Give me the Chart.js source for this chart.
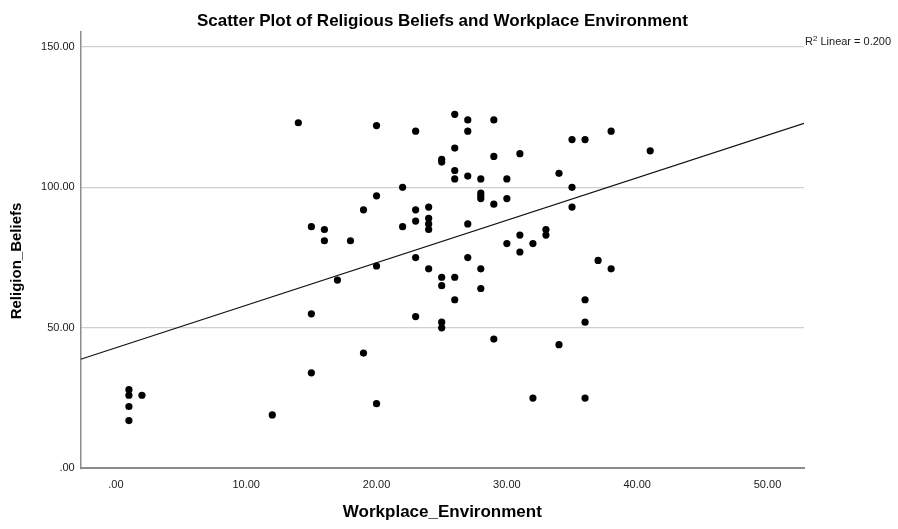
<!DOCTYPE html>
<html>
<head>
<meta charset="utf-8">
<script src="https://cdn.jsdelivr.net/npm/chart.js@4"></script>
<style>
  html, body { margin: 0; padding: 0; background: #fff; }
  #wrap { width: 898px; height: 529px; position: relative; }
</style>
</head>
<body>
<div id="wrap"><canvas id="c" width="898" height="529"></canvas></div>
<script>
// Workplace_Environment (x) values
const workplaceEnv = [
  1, 1, 2, 1, 1, 12, 15, 19, 20, 15,
  16, 16, 18, 19, 20, 20, 17, 15, 14, 20,
  23, 25, 25, 22, 26, 27, 27, 26, 26, 26,
  27, 28, 23, 24, 24, 24, 24, 23, 22, 27,
  29, 29, 31, 35, 36, 38, 41, 30, 34, 35,
  28, 28, 28, 29, 30, 35, 30, 31, 32, 33,
  33, 31, 27, 28, 28, 37, 38, 36, 36, 29,
  34, 32, 36, 23, 24, 25, 25, 26, 26, 23,
  25, 25
];
// Religion_Beliefs (y) values
const religionBeliefs = [
  28, 26, 26, 22, 17, 19, 34, 41, 23, 86,
  85, 81, 81, 92, 97, 72, 67, 55, 123, 122,
  120, 110, 109, 100, 126, 124, 120, 114, 106, 103,
  104, 103, 92, 93, 89, 87, 85, 88, 86, 87,
  124, 111, 112, 117, 117, 120, 113, 103, 105, 100,
  98, 97, 96, 94, 96, 93, 80, 83, 80, 85,
  83, 77, 75, 71, 64, 74, 71, 60, 52, 46,
  44, 25, 25, 75, 71, 68, 65, 68, 60, 54,
  52, 50
];
// Fit line (R² Linear = 0.200), endpoints read at the axis bounds
const fitX = [-2.7, 52.8];
const fitY = [38.8, 122.8];
const xTicks = [0, 10, 20, 30, 40, 50];
const yTicks = [0, 50, 100, 150];
const xRange = [-2.7, 52.8];
const yRange = [0, 155.3];
const titleText = 'Scatter Plot of Religious Beliefs and Workplace Environment';
const xTitle = 'Workplace_Environment';
const yTitle = 'Religion_Beliefs';
const r2Text = 'Linear = 0.200';

const FONT = "'Liberation Sans', Arial, sans-serif";
const fmt = v => v === 0 ? '.00' : v.toFixed(2);

const points = workplaceEnv.map((x, i) => ({ x: x, y: religionBeliefs[i] }));
const fitPts = fitX.map((x, i) => ({ x: x, y: fitY[i] }));

const textPlugin = {
  id: 'texts',
  afterDraw(chart) {
    const ctx = chart.ctx;
    const ca = chart.chartArea;
    ctx.save();
    ctx.fillStyle = '#000';
    ctx.font = "bold 17px " + FONT;
    ctx.textAlign = 'center';
    ctx.textBaseline = 'alphabetic';
    ctx.fillText(titleText, (ca.left + ca.right) / 2, 26);
    // Y axis title
    ctx.save();
    ctx.translate(17, 261);
    ctx.rotate(-Math.PI / 2);
    ctx.font = "bold 15px " + FONT;
    ctx.textBaseline = 'middle';
    ctx.fillText(yTitle, 0, 0);
    ctx.restore();
    // R² label
    ctx.textAlign = 'left';
    ctx.font = "11px " + FONT;
    let x = ca.right + 1;
    const base = 45;
    ctx.fillStyle = '#1a1a1a';
    ctx.fillText('R', x, base);
    x += ctx.measureText('R').width;
    ctx.font = "8px " + FONT;
    ctx.fillText('2', x, base - 4);
    x += ctx.measureText('2').width;
    ctx.font = "11px " + FONT;
    ctx.fillText(' ' + r2Text, x, base);
    ctx.restore();
  }
};

new Chart(document.getElementById('c'), {
  type: 'scatter',
  data: {
    datasets: [
      {
        label: 'Religion_Beliefs',
        data: points,
        backgroundColor: '#000',
        borderWidth: 0,
        pointRadius: 3.6,
        pointHoverRadius: 3.6
      },
      {
        type: 'line',
        label: 'Fit',
        data: fitPts,
        borderColor: '#111',
        borderWidth: 1.2,
        pointRadius: 0,
        fill: false,
        tension: 0
      }
    ]
  },
  plugins: [textPlugin],
  options: {
    responsive: false,
    animation: false,
    events: [],
    layout: { padding: { left: 0, right: 94, top: 32, bottom: 0 } },
    plugins: {
      legend: { display: false },
      tooltip: { enabled: false },
      title: { display: false }
    },
    scales: {
      x: {
        type: 'linear',
        min: xRange[0],
        max: xRange[1],
        afterBuildTicks: s => { s.ticks = xTicks.map(v => ({ value: v })); },
        afterFit: s => { s.height = 60.7; },
        grid: { display: false, drawTicks: false },
        border: { display: true, color: '#8c8c8c', width: 2 },
        ticks: {
          padding: 10,
          color: '#1a1a1a',
          font: { family: FONT, size: 11 },
          maxRotation: 0,
          autoSkip: false,
          callback: v => fmt(v)
        },
        title: {
          display: true,
          text: xTitle,
          color: '#000',
          font: { family: FONT, size: 17, weight: 'bold' },
          padding: { top: 0, bottom: 6.8 }
        }
      },
      y: {
        type: 'linear',
        min: yRange[0],
        max: yRange[1],
        afterBuildTicks: s => { s.ticks = yTicks.map(v => ({ value: v })); },
        afterFit: s => { s.width = 80.7; },
        grid: {
          drawTicks: false,
          color: ctx => ctx.tick && ctx.tick.value === 0 ? 'rgba(0,0,0,0)' : '#cfcfcf',
          lineWidth: 1.2
        },
        border: { display: true, color: '#8c8c8c', width: 1.5 },
        ticks: {
          padding: 6,
          color: '#1a1a1a',
          font: { family: FONT, size: 11 },
          autoSkip: false,
          callback: v => fmt(v)
        },
        title: { display: false }
      }
    }
  }
});
</script>
</body>
</html>
